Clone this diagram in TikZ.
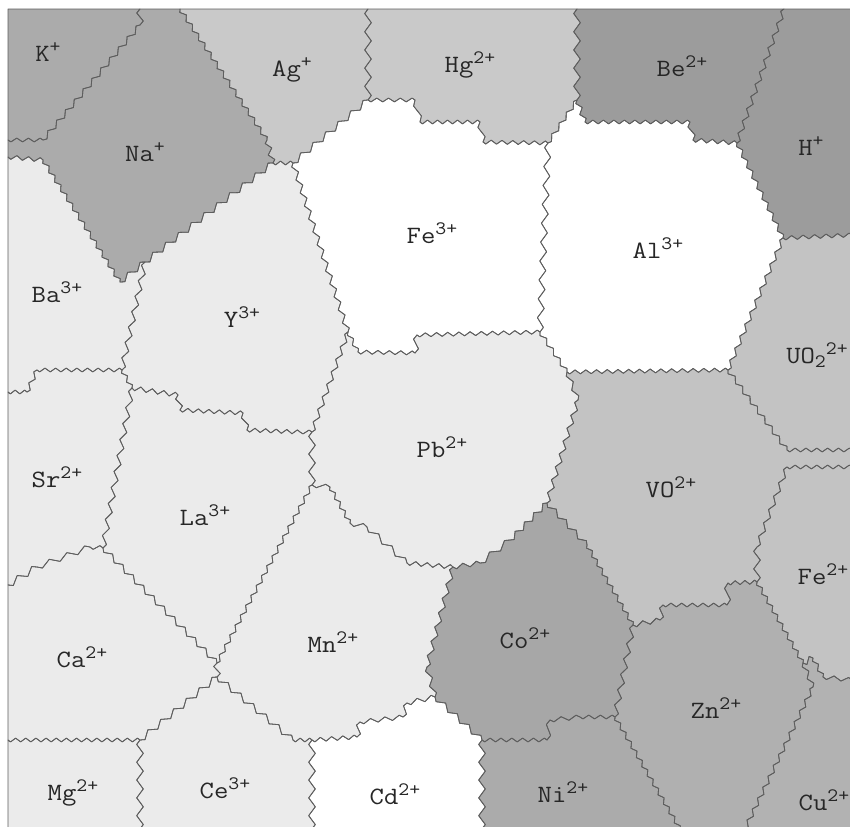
\documentclass[tikz,border=0pt]{standalone}
\usepackage{fontspec}
\usepackage{graphicx}
\definecolor{cKNa}{HTML}{ABABAB}
\definecolor{cAgHg}{HTML}{C9C9C9}
\definecolor{cBeH}{HTML}{9C9C9C}
\definecolor{cLight}{HTML}{EBEBEB}
\definecolor{cMid}{HTML}{C3C3C3}
\definecolor{cCo}{HTML}{A7A7A7}
\definecolor{cNi}{HTML}{ABABAB}
\definecolor{cZn}{HTML}{B0B0B0}
\definecolor{cCu}{HTML}{B2B2B2}
\definecolor{lineg}{HTML}{5E5E5E}
\newcommand\ionup[1]{\raisebox{8.5bp}{\fontsize{19}{21}\selectfont #1}}
\newcommand\iondown[1]{\raisebox{-4bp}{\fontsize{19}{21}\selectfont #1}}
\newcommand\ion[1]{\scalebox{1.12}[1]{#1}}
\makeatletter
\newif\ifzzstraight
\def\zzpath{}
\newcommand\zzseg[4]{%
  \pgfmathsetmacro\zdx{#3-#1}%
  \pgfmathsetmacro\zdy{#4-#2}%
  \pgfmathsetmacro\zlen{veclen(\zdx,\zdy)}%
  \zzstraightfalse
  \ifdim #1pt=#3pt
    \ifdim #1pt<9pt \zzstraighttrue\fi
    \ifdim #1pt>849pt \zzstraighttrue\fi
  \fi
  \ifdim #2pt=#4pt
    \ifdim #2pt<10pt \zzstraighttrue\fi
    \ifdim #2pt>826pt \zzstraighttrue\fi
  \fi
  \ifzzstraight
    \xdef\zzpath{\zzpath -- (#3,#4)}%
  \else
    \pgfmathsetmacro\zang{mod(atan2(\zdy,\zdx)+360,60)}%
    \pgfmathsetmacro\zphi{min(\zang,60-\zang)/30}%
    \pgfmathsetmacro\zper{10.5+8.5*\zphi}%
    \pgfmathsetmacro\zamp{1.9+1.4*\zphi}%
    \pgfmathtruncatemacro\zn{max(1,round(\zlen/\zper))}%
    \pgfmathsetmacro\znx{-\zdy/\zlen*\zamp}%
    \pgfmathsetmacro\zny{\zdx/\zlen*\zamp}%
    \pgfmathtruncatemacro\zm{2*\zn-1}%
    \foreach \j in {0,...,\zm} {%
      \pgfmathsetmacro\zt{(\j+0.5)/(2*\zn)}%
      \pgfmathsetmacro\zs{1-2*mod(\j,2)}%
      \pgfmathsetmacro\zx{#1+\zt*\zdx+\zs*\znx}%
      \pgfmathsetmacro\zy{#2+\zt*\zdy+\zs*\zny}%
      \xdef\zzpath{\zzpath -- (\zx,\zy)}%
    }%
    \xdef\zzpath{\zzpath -- (#3,#4)}%
  \fi
}
\newcommand\zzbuild[1]{%
  \gdef\zzpath{}%
  \gdef\zzprevx{}%
  \foreach \px/\py in #1 {%
    \ifx\zzprevx\@empty
      \xdef\zzpath{(\px,\py)}%
      \xdef\zzfirstx{\px}\xdef\zzfirsty{\py}%
    \else
      \zzseg{\zzprevx}{\zzprevy}{\px}{\py}%
    \fi
    \xdef\zzprevx{\px}\xdef\zzprevy{\py}%
  }%
  \zzseg{\zzprevx}{\zzprevy}{\zzfirstx}{\zzfirsty}%
}
\newcommand\region[2]{%
  \zzbuild{#2}%
  \edef\zz@tmp{\noexpand\path[#1] \zzpath\space -- cycle;}\zz@tmp}
\makeatother
% region vertex lists (image pixel coordinates)
\def\LK{8/9,140/9,140/25,43/140,8/140}
\def\LNa{140/9,180/9,267/140,273/163,145/262,120/282,43/160,8/157,8/140,43/140,140/25}
\def\LAg{180/9,368/9,368/100,293/163,273/163,267/140}
\def\LHg{368/9,577/9,577/100,548/143,483/142,480/122,420/122,415/100,368/100}
\def\LFe{368/100,415/100,420/122,480/122,483/142,548/143,540/332,417/335,415/353,358/352,348/332,293/163}
\def\LAl{577/100,585/122,690/122,693/140,737/143,783/238,728/370,567/372,540/332,548/143}
\def\LBe{577/9,784/9,737/143,693/140,690/122,585/122,577/100}
\def\LH{784/9,852/9,852/235,783/238,737/143}
\def\LUO{783/238,852/235,852/450,787/450,728/370}
\def\LBa{8/157,43/160,120/282,145/262,122/370,37/370,27/392,8/392}
\def\LY{145/262,273/163,293/163,348/332,312/432,300/432,247/430,243/413,180/410,178/395,132/388,122/370}
\def\LSr{8/392,27/392,37/370,122/370,132/388,103/548,90/547,37/567,8/585}
\def\LLa{132/388,178/395,180/410,243/413,247/430,300/432,312/432,312/485,217/663,103/548}
\def\LPb{348/332,358/352,415/353,417/335,540/332,567/372,578/400,547/503,510/540,480/563,453/567,407/563,367/527,350/523,330/487,312/485,312/432}
\def\LVO{567/372,728/370,787/450,852/450,852/467,787/467,757/547,757/582,728/583,727/605,663/605,660/620,633/625,587/545,547/503,578/400}
\def\LFeii{852/467,852/680,823/677,813/658,803/663,757/582,757/547,787/467}
\def\LCa{8/585,37/567,90/547,103/548,217/663,217/677,140/740,8/740}
\def\LMn{217/663,312/485,330/487,350/523,367/527,407/563,453/567,427/667,435/697,407/703,403/717,360/722,357/737,312/740,293/740,217/677}
\def\LCo{453/567,480/563,510/540,547/503,587/545,633/625,615/717,580/717,550/720,547/740,482/740,435/697,427/667}
\def\LZn{633/625,660/620,663/605,727/605,728/583,757/582,803/663,813/687,745/829,680/829,615/717}
\def\LCu{852/680,852/829,745/829,813/687,803/663,813/658,823/677}
\def\LMg{8/740,140/740,140/829,8/829}
\def\LCe{140/740,217/677,293/740,312/740,312/829,140/829}
\def\LCd{312/740,357/737,360/722,403/717,407/703,435/697,482/740,482/829,312/829}
\def\LNi{482/740,547/740,550/720,580/717,615/717,680/829,482/829}
\tikzset{
  border/.style={draw=lineg,line width=0.8bp,line join=round},
  lbl/.style={font=\ttfamily\fontsize{25}{29}\selectfont,inner sep=0pt,text=black!85}
}
\begin{document}
\begin{tikzpicture}[x=1bp,y=-1bp]
\useasboundingbox (0,0) rectangle (850,827);
\fill[white] (0,0) rectangle (850,827);
% fills
\region{fill=cKNa}{\LK}
\region{fill=cKNa}{\LNa}
\region{fill=cAgHg}{\LAg}
\region{fill=cAgHg}{\LHg}
\region{fill=white}{\LFe}
\region{fill=white}{\LAl}
\region{fill=cBeH}{\LBe}
\region{fill=cBeH}{\LH}
\region{fill=cMid}{\LUO}
\region{fill=cLight}{\LBa}
\region{fill=cLight}{\LY}
\region{fill=cLight}{\LSr}
\region{fill=cLight}{\LLa}
\region{fill=cLight}{\LPb}
\region{fill=cMid}{\LVO}
\region{fill=cMid}{\LFeii}
\region{fill=cLight}{\LCa}
\region{fill=cLight}{\LMn}
\region{fill=cCo}{\LCo}
\region{fill=cZn}{\LZn}
\region{fill=cCu}{\LCu}
\region{fill=cLight}{\LMg}
\region{fill=cLight}{\LCe}
\region{fill=white}{\LCd}
\region{fill=cNi}{\LNi}
% borders
\region{border}{\LK}
\region{border}{\LNa}
\region{border}{\LAg}
\region{border}{\LHg}
\region{border}{\LFe}
\region{border}{\LAl}
\region{border}{\LBe}
\region{border}{\LH}
\region{border}{\LUO}
\region{border}{\LBa}
\region{border}{\LY}
\region{border}{\LSr}
\region{border}{\LLa}
\region{border}{\LPb}
\region{border}{\LVO}
\region{border}{\LFeii}
\region{border}{\LCa}
\region{border}{\LMn}
\region{border}{\LCo}
\region{border}{\LZn}
\region{border}{\LCu}
\region{border}{\LMg}
\region{border}{\LCe}
\region{border}{\LCd}
\region{border}{\LNi}
% labels
\node[lbl] (nK)  at (48,52)   {\ion{K\ionup{+}}};
\node[lbl] (nNa) at (145,152) {\ion{Na\ionup{+}}};
\node[lbl] (nAg) at (292,70)  {\ion{Ag\ionup{+}}};
\node[lbl] (nHg) at (470,65)  {\ion{Hg\ionup{2+}}};
\node[lbl] (nBe) at (682,66)  {\ion{Be\ionup{2+}}};
\node[lbl] (nH)  at (811,146) {\ion{H\ionup{+}}};
\node[lbl] (nFe) at (432,233) {\ion{Fe\ionup{3+}}};
\node[lbl] (nAl) at (658,248) {\ion{Al\ionup{3+}}};
\node[lbl] (nBa) at (57,292)  {\ion{Ba\ionup{3+}}};
\node[lbl] (nY)  at (242,317) {\ion{Y\ionup{3+}}};
\node[lbl] (nUO) at (817,355) {\ion{UO\iondown{2}\ionup{2+}}};
\node[lbl] (nSr) at (57,477)  {\ion{Sr\ionup{2+}}};
\node[lbl] (nLa) at (205,515) {\ion{La\ionup{3+}}};
\node[lbl] (nPb) at (442,447) {\ion{Pb\ionup{2+}}};
\node[lbl] (nVO) at (671,487) {\ion{VO\ionup{2+}}};
\node[lbl] (nFeii) at (823,574) {\ion{Fe\ionup{2+}}};
\node[lbl] (nCa) at (82,657)  {\ion{Ca\ionup{2+}}};
\node[lbl] (nMn) at (333,642) {\ion{Mn\ionup{2+}}};
\node[lbl] (nCo) at (525,638) {\ion{Co\ionup{2+}}};
\node[lbl] (nZn) at (716,708) {\ion{Zn\ionup{2+}}};
\node[lbl] (nMg) at (73,793)  {\ion{Mg\ionup{2+}}};
\node[lbl] (nCe) at (225,788) {\ion{Ce\ionup{3+}}};
\node[lbl] (nCd) at (395,794) {\ion{Cd\ionup{2+}}};
\node[lbl] (nNi) at (563,792) {\ion{Ni\ionup{2+}}};
\node[lbl] (nCu) at (824,800) {\ion{Cu\ionup{2+}}};
\end{tikzpicture}
\end{document}
